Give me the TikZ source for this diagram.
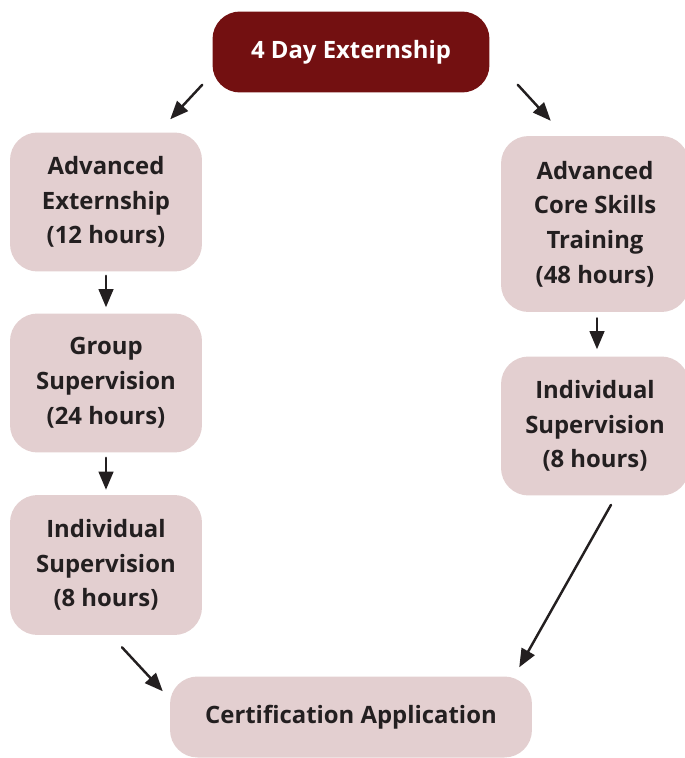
\documentclass[tikz,border=0pt]{standalone}
\usepackage{fontspec}
\setmainfont{Open Sans}
\usepackage{tikz}
\usetikzlibrary{arrows}
\definecolor{wine}{HTML}{731011}
\definecolor{blush}{HTML}{E3CFD0}
\definecolor{ink}{HTML}{231F20}
\tikzset{
  stage/.style={fill=blush,rounded corners=0.55cm,align=center,font=\bfseries\fontsize{13.6}{19.8}\selectfont,text=ink},
  head/.style={fill=wine,rounded corners=0.55cm,align=center,font=\bfseries\fontsize{13.6}{19.8}\selectfont,text=white},
  flow/.style={->,line width=1.4pt,color=ink}
}
\begin{document}
\begin{tikzpicture}[line cap=round,line join=round,>=triangle 45,x=0.02cm,y=-0.02cm]
      \useasboundingbox (0,0) rectangle (685,758);
      \node[head,minimum width=5.54cm,minimum height=1.62cm] (start) at (351,52) {4 Day Externship};
      \node[stage,minimum width=3.84cm,minimum height=2.78cm] (advext) at (106,202) {Advanced\\Externship\\(12 hours)};
      \node[stage,minimum width=3.84cm,minimum height=2.78cm] (group) at (106,383) {Group\\Supervision\\(24 hours)};
      \node[stage,minimum width=3.84cm,minimum height=2.8cm] (indivl) at (106,565) {Individual\\Supervision\\(8 hours)};
      \node[stage,minimum width=3.76cm,minimum height=3.52cm] (core) at (595,224) {Advanced\\Core Skills\\Training\\(48 hours)};
      \node[stage,minimum width=3.76cm,minimum height=2.78cm] (indivr) at (595,426) {Individual\\Supervision\\(8 hours)};
      \node[stage,minimum width=7.24cm,minimum height=1.62cm] (cert) at (351,717) {Certification Application};
      % connectors
      \draw[flow] ([shift={(-10,-8)}]start.south west) -- ([shift={(-32,-13)}]advext.north east);
      \draw[flow] ([shift={(28,-8)}]start.south east) -- ([shift={(50,-15)}]core.north west);
      \draw[flow] ([shift={(0,4)}]advext.south) -- ([shift={(0,-6)}]group.north);
      \draw[flow] ([shift={(0,5)}]group.south) -- ([shift={(0,-5)}]indivl.north);
      \draw[flow] ([shift={(2,6)}]core.south) -- ([shift={(2,-7)}]indivr.north);
      \draw[flow] ([shift={(16,9)}]indivr.south) -- ([shift={(-13,-9)}]cert.north east);
      \draw[flow] ([shift={(16,12)}]indivl.south) -- ([shift={(-7,15)}]cert.north west);
\end{tikzpicture}
\end{document}
